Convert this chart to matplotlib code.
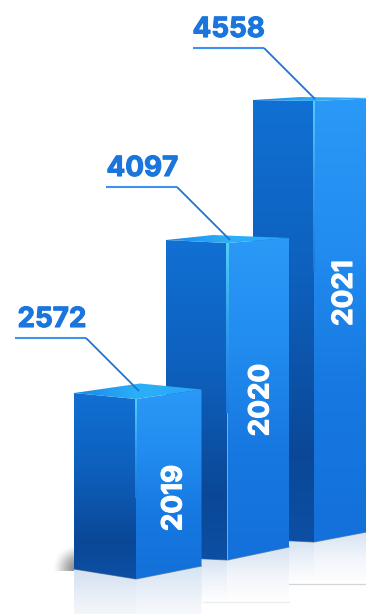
import numpy as np
import matplotlib
matplotlib.use('Agg')
import matplotlib.pyplot as plt
import matplotlib.patheffects as pe
from matplotlib.colors import LinearSegmentedColormap
from matplotlib.patches import Polygon

plt.rcParams['font.family'] = ['Inter', 'DejaVu Sans']

# data
years = ['2019', '2020', '2021']
values = [2572, 4097, 4558]

# the picture's bars are not drawn to a linear scale, so map value -> pixel height
scale_values = [2572, 4097, 4558]
scale_heights = [180, 317, 441]

W, H = 366, 614
TEXT_BLUE = '#1a75dd'

# layout, one row per bar, in pixels
x_left = [74, 166, 253]
x_mid = [136, 227.5, 314]
x_right = [201.5, 289, 377]
base_left = [569, 557, 539]
base_mid = [579, 560, 542]
base_right = [566, 547, 530]
top_left_rise = [6, 3, 1]
top_right_rise = [9.5, 5, 3]
top_back_rise = [15.5, 8, 4]
top_back_x = [140, 213, 300]
refl_bottom = [640, 602, 584]
leader_x = [(15, 86, 139), (106, 177, 230), (193, 264, 315)]
leader_y = [338, 187, 48]
value_text_x = [17.5, 106.5, 192.5]
value_text_y = [320, 169, 30]
year_text_x = [174.5, 261.5, 345]
year_text_y = [498, 400, 293]


def grad_poly(ax, pts, colors, z, horizontal=False):
    """vertical (or horizontal) gradient clipped to a polygon"""
    pts = np.array(pts)
    x0, x1 = pts[:, 0].min(), pts[:, 0].max()
    y0, y1 = pts[:, 1].min(), pts[:, 1].max()
    g = np.linspace(0, 1, 256)
    g = g.reshape(1, -1) if horizontal else g.reshape(-1, 1)
    cmap = LinearSegmentedColormap.from_list('g', colors)
    im = ax.imshow(g, cmap=cmap, vmin=0, vmax=1, extent=(x0, x1, y1, y0), aspect='auto',
                   zorder=z, interpolation='bilinear')
    clip = Polygon(pts, closed=True, transform=ax.transData, fc='none', ec='none')
    ax.add_patch(clip)
    im.set_clip_path(clip)
    return im


def draw_bar(ax, i, z):
    h = np.interp(values[i], scale_values, scale_heights)
    xl, xm, xr = x_left[i], x_mid[i], x_right[i]
    top_mid = base_mid[i] - h
    top_l = top_mid - top_left_rise[i]
    top_r = top_mid - top_right_rise[i]
    top_b = top_mid - top_back_rise[i]

    # reflection on the floor
    grad_poly(ax, [(xl, base_left[i]), (xm, base_mid[i]), (xm, refl_bottom[i]), (xl, refl_bottom[i])],
              ['#d3e1f2', '#eef3f9', '#ffffff'], z)
    grad_poly(ax, [(xm, base_mid[i]), (xr, base_right[i]), (xr, refl_bottom[i]), (xm, refl_bottom[i])],
              ['#d5e3f3', '#f1f5fa', '#ffffff'], z)
    if i == 1:
        ax.plot([xm - 25, xr], [refl_bottom[i]] * 2, color='#ececec', lw=0.9, zorder=z)
    if i == 2:
        ax.plot([289, xr], [refl_bottom[i]] * 2, color='#d4d4d4', lw=0.9, zorder=z)

    # side faces
    grad_poly(ax, [(xl, top_l), (xm, top_mid), (xm, base_mid[i]), (xl, base_left[i])],
              ['#1170d3', '#0f68c8', '#0e60bd', '#0c54aa', '#0a4897', '#0c4fa4'], z + 0.1)
    grad_poly(ax, [(xm, top_mid), (xr, top_r), (xr, base_right[i]), (xm, base_mid[i])],
              ['#2b99f7', '#228cf0', '#1678e0', '#1470da'], z + 0.1)

    # top face
    grad_poly(ax, [(xl, top_l), (top_back_x[i], top_b), (xr, top_r), (xm, top_mid)],
              ['#1a86e6', '#2bb0f8', '#2aa6f6'], z + 0.2, horizontal=True)

    # bright corner edge fading out downwards
    edge_h = min(h * 0.55, 170)
    grad_poly(ax, [(xm - 1.4, top_mid), (xm + 1.4, top_mid), (xm + 1.4, top_mid + edge_h), (xm - 1.4, top_mid + edge_h)],
              ['#4fd0f8', '#2f9cf0', '#1a78dc'], z + 0.3)

    # dark line where the bar meets the floor
    ax.plot([xl, xm, xr], [base_left[i], base_mid[i], base_right[i]], color='#6d7480', lw=0.8,
            alpha=0.8, zorder=z + 0.05, solid_joinstyle='round')

    # year on the right face
    ax.text(year_text_x[i], year_text_y[i], years[i], color='white', fontsize=20, fontweight='bold',
            rotation=90, ha='center', va='center', zorder=z + 0.4,
            path_effects=[pe.withStroke(linewidth=0.8, foreground='white')])


def draw_shadow(ax):
    """soft grey shadow left of the first bar, cut off at the floor line"""
    yy, xx = np.mgrid[535:575, 45:80]
    d = ((xx - 78) / 27.0) ** 2 + ((yy - 568) / 25.0) ** 2
    rgba = np.zeros(d.shape + (4,))
    rgba[..., :3] = 0.4
    rgba[..., 3] = np.clip(1 - d, 0, 1) ** 2 * 0.75
    rgba[yy > 570, 3] = 0
    ax.imshow(rgba, extent=(45, 80, 575, 535), aspect='auto', zorder=14, interpolation='bilinear')


def main():
    fig = plt.figure(figsize=(W / 100, H / 100), dpi=100, facecolor='white')
    ax = fig.add_axes([0, 0, 1, 1])

    # back to front: 2021, 2020, 2019
    draw_bar(ax, 2, 10)
    draw_bar(ax, 1, 12)
    draw_shadow(ax)
    draw_bar(ax, 0, 15)

    for i in range(3):
        xs = leader_x[i]
        y0 = leader_y[i]
        ax.plot(xs[:2], [y0, y0], color='#3d92ee', lw=1.5, zorder=20, solid_capstyle='butt')
        ax.plot(xs[1:], [y0, y0 + (xs[2] - xs[1])], color='#1f72d6', lw=1.3, zorder=20,
                solid_capstyle='butt')
        ax.text(value_text_x[i], value_text_y[i], str(values[i]), color=TEXT_BLUE, fontsize=20,
                fontweight='bold', ha='left', va='center', zorder=21,
                path_effects=[pe.withStroke(linewidth=0.8, foreground=TEXT_BLUE)])

    ax.set_xlim(0, W)
    ax.set_ylim(H, 0)
    ax.axis('off')
    fig.savefig('out.png', dpi=100, facecolor='white')
    plt.close(fig)


if __name__ == '__main__':
    main()
